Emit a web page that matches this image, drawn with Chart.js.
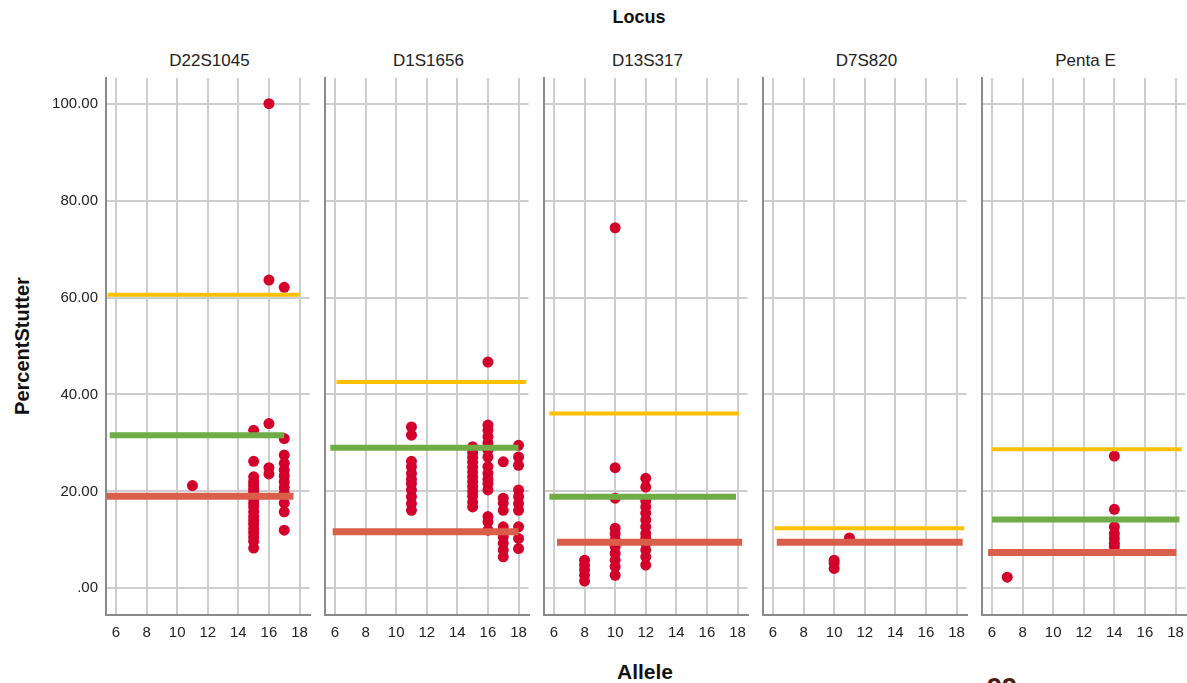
<!DOCTYPE html>
<html>
<head>
<meta charset="utf-8">
<title>PercentStutter by Allele and Locus</title>
<script src="https://cdn.jsdelivr.net/npm/chart.js@4/dist/chart.umd.min.js"></script>
<style>
  html, body { margin: 0; padding: 0; background: #fff; overflow: hidden; width: 1187px; height: 683px; }
  body { position: relative; font-family: "Liberation Sans", Arial, sans-serif; color: #222; }
  canvas { position: absolute; }
  .head { position: absolute; top: 51px; width: 207px; text-align: center; font-size: 17px; line-height: 20px; color: #222; }
  .title { position: absolute; font-weight: bold; line-height: 24px; color: #111; white-space: nowrap; text-align: center; }
  .corner { position: absolute; left: 987px; top: 675px; font-weight: bold; font-size: 27px; line-height: 27px; color: #4a1c12; }
</style>
</head>
<body>
<div class="title" style="left:589px; top:5px; width:100px; font-size:18px;">Locus</div>
<div class="title" style="left:595px; top:660px; width:100px; font-size:21px;">Allele</div>
<div class="title" style="left:-58px; top:334px; width:160px; font-size:20px; transform:rotate(-90deg);">PercentStutter</div>
<div class="corner">99</div>
<script>
// Facets, one per locus
const loci = ['D22S1045', 'D1S1656', 'D13S317', 'D7S820', 'Penta E'];
const alleleTicks = [6, 8, 10, 12, 14, 16, 18];
const stutterTicks = [0, 20, 40, 60, 80, 100];

// Observed stutter percentages, grouped by allele
const d22s1045Alleles = [11, 15, 16, 17];
const d22s1045Stutter = [
  [21.2],
  [32.6, 26.2, 23.0, 22.0, 21.3, 20.6, 20.0, 19.3, 18.5, 17.6, 16.8, 15.8, 14.8, 14.0, 13.2, 12.3, 11.5, 10.6, 9.7, 8.3],
  [100.0, 63.6, 34.0, 24.9, 23.6],
  [62.1, 30.9, 27.5, 25.8, 24.4, 23.2, 22.0, 20.8, 19.6, 17.6, 15.8, 12.0]
];

const d1s1656Alleles = [11, 15, 16, 17, 18];
const d1s1656Stutter = [
  [33.3, 31.6, 26.2, 25.1, 23.7, 22.5, 21.6, 20.3, 18.9, 17.5, 16.1],
  [29.2, 28.0, 27.0, 26.0, 25.0, 24.0, 23.0, 22.0, 21.0, 20.0, 19.0, 17.8, 16.8],
  [46.7, 33.7, 32.6, 31.3, 30.0, 28.5, 27.1, 25.1, 23.7, 22.5, 21.6, 20.3, 14.8, 13.7, 12.0],
  [26.1, 18.6, 17.6, 16.1, 12.7, 10.6, 9.3, 7.9, 6.5],
  [29.5, 27.1, 25.4, 20.3, 18.9, 17.5, 16.1, 12.7, 10.3, 8.2]
];

const d13s317Alleles = [8, 10, 12];
const d13s317Stutter = [
  [5.8, 4.8, 3.8, 2.7, 1.5],
  [74.4, 24.9, 18.6, 12.4, 11.3, 10.0, 8.6, 7.2, 5.8, 4.5, 2.7],
  [22.7, 20.9, 18.0, 16.8, 15.5, 14.1, 12.7, 11.3, 10.3, 9.3, 7.9, 6.5, 4.8]
];

const d7s820Alleles = [10, 11];
const d7s820Stutter = [
  [5.8, 5.2, 4.1],
  [10.4]
];

const pentaEAlleles = [7, 14];
const pentaEStutter = [
  [2.3],
  [27.3, 16.3, 12.7, 11.3, 10.3, 9.3, 8.6]
];

// Reference lines per locus: level and allele span
const upperLine = [60.6, 42.6, 36.1, 12.4, 28.7];
const upperSpan = [[5.45, 18.0], [6.1, 18.5], [5.7, 18.1], [6.1, 18.5], [6.0, 18.4]];
const middleLine = [31.6, 29.0, 18.9, null, 14.2];
const middleSpan = [[5.6, 17.0], [5.7, 18.0], [5.7, 17.9], null, [6.0, 18.25]];
const lowerLine = [19.0, 11.7, 9.5, 9.5, 7.4];
const lowerSpan = [[5.4, 17.6], [5.85, 18.0], [6.2, 18.3], [6.25, 18.4], [5.75, 18.05]];

const lociAlleles = [d22s1045Alleles, d1s1656Alleles, d13s317Alleles, d7s820Alleles, pentaEAlleles];
const lociStutter = [d22s1045Stutter, d1s1656Stutter, d13s317Stutter, d7s820Stutter, pentaEStutter];

const tickFont = { family: '"Liberation Sans", Arial, sans-serif', size: 15 };
const PANEL_W = 207;
const PANEL_STEP = 219;
const FIRST_AXIS = 106;
const TOP = 40;

function refLine(values, spans, i, color, width) {
  if (values[i] == null) return null;
  return {
    type: 'line',
    data: [{ x: spans[i][0], y: values[i] }, { x: spans[i][1], y: values[i] }],
    borderColor: color,
    borderWidth: width,
    borderCapStyle: 'butt',
    pointRadius: 0,
    fill: false,
    order: 0
  };
}

loci.forEach((locus, i) => {
  const first = i === 0;
  const axisW = first ? 106 : 6;
  const axisX = FIRST_AXIS + i * PANEL_STEP;

  const head = document.createElement('div');
  head.className = 'head';
  head.style.left = axisX + 'px';
  head.textContent = locus;
  document.body.appendChild(head);

  const canvas = document.createElement('canvas');
  canvas.width = axisW + PANEL_W + 2;
  canvas.height = 620;
  canvas.style.left = (axisX - axisW) + 'px';
  canvas.style.top = TOP + 'px';
  document.body.appendChild(canvas);

  const points = [];
  lociAlleles[i].forEach((a, k) => lociStutter[i][k].forEach(v => points.push({ x: a, y: v })));

  const datasets = [
    refLine(upperLine, upperSpan, i, '#FFC000', 4),
    refLine(middleLine, middleSpan, i, '#6FAC46', 6),
    refLine(lowerLine, lowerSpan, i, '#DA5F4B', 7),
    {
      type: 'scatter',
      data: points,
      backgroundColor: '#D4002C',
      borderWidth: 0,
      pointRadius: 5.5,
      order: 1
    }
  ].filter(Boolean);

  new Chart(canvas, {
    data: { datasets },
    options: {
      responsive: false,
      animation: false,
      events: [],
      layout: { padding: { top: 38, right: 2, bottom: 0, left: 0 } },
      plugins: { legend: { display: false }, tooltip: { enabled: false } },
      scales: {
        x: {
          type: 'linear',
          min: 5.35,
          max: 18.65,
          afterBuildTicks: s => { s.ticks = alleleTicks.map(v => ({ value: v })); },
          afterFit: s => { s.height = 45; s.paddingLeft = 0; s.paddingRight = 0; },
          ticks: { autoSkip: false, maxRotation: 0, font: tickFont, color: '#222', padding: 9 },
          grid: { color: '#cdcdcd', lineWidth: 2, drawTicks: false },
          border: { color: '#8a8a8a', width: 2 }
        },
        y: {
          type: 'linear',
          min: -5.5,
          max: 105.3,
          afterBuildTicks: s => { s.ticks = stutterTicks.map(v => ({ value: v })); },
          afterFit: s => { s.width = axisW; s.paddingTop = 0; s.paddingBottom = 0; },
          ticks: {
            display: first,
            font: tickFont,
            color: '#222',
            padding: 8,
            callback: v => (v === 0 ? '.00' : v.toFixed(2))
          },
          grid: { color: '#cdcdcd', lineWidth: 2, drawTicks: false },
          border: { color: '#8a8a8a', width: 2 }
        }
      }
    }
  });
});
</script>
</body>
</html>
